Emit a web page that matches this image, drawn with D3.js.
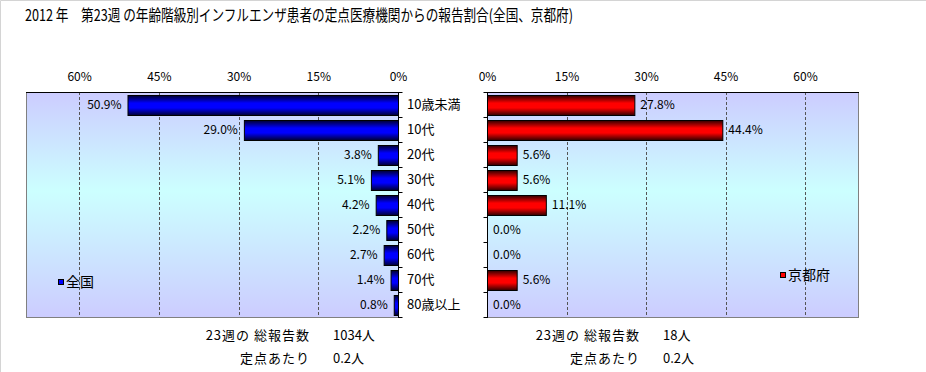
<!DOCTYPE html>
<html>
<head>
<meta charset="utf-8">
<script src="https://cdn.jsdelivr.net/npm/d3@7"></script>
<style>
body { margin: 0; background: #fff; }
text { font-family: "Noto Sans CJK JP", "Noto Sans", sans-serif; fill: #000; }
</style>
</head>
<body>
<svg id="chart" width="926" height="372"></svg>
<script>

// values (percent)
var categories = ["10歳未満", "10代", "20代", "30代", "40代", "50代", "60代", "70代", "80歳以上"];
var zenkoku = [50.9, 29.0, 3.8, 5.1, 4.2, 2.2, 2.7, 1.4, 0.8];
var kyoto = [27.8, 44.4, 5.6, 5.6, 11.1, 0.0, 0.0, 5.6, 0.0];
var tickValues = [0, 15, 30, 45, 60];
var legendNames = ["全国", "京都府"];
var footerLabels = ["23週の 総報告数", "定点あたり"];
var zenkokuFooter = ["1034人", "0.2人"];
var kyotoFooter = ["18人", "0.2人"];
var title = "2012 年　第23週 の年齢階級別インフルエンザ患者の定点医療機関からの報告割合(全国、京都府)";

var width = 926, height = 372;
var plotTop = 92, plotBottom = 317;

var svg = d3.select("#chart");

// outer frame (top + left only)
svg.append("line").attr("x1", 0.5).attr("y1", 0.5).attr("x2", width).attr("y2", 0.5).attr("stroke", "#d4d4d4");
svg.append("line").attr("x1", 0.5).attr("y1", 0.5).attr("x2", 0.5).attr("y2", height).attr("stroke", "#d4d4d4");

svg.append("text")
    .attr("x", 25).attr("y", 21)
    .attr("font-size", 16)
    .attr("textLength", 548).attr("lengthAdjust", "spacingAndGlyphs")
    .text(title);

var defs = svg.append("defs");

var bg = defs.append("linearGradient").attr("id", "bg")
    .attr("x1", 0).attr("y1", 0).attr("x2", 0).attr("y2", 1);
bg.append("stop").attr("offset", "0%").attr("stop-color", "#ccccff");
bg.append("stop").attr("offset", "44%").attr("stop-color", "#ccffff");
bg.append("stop").attr("offset", "100%").attr("stop-color", "#ccccff");

var barGrad = function(id, dark, bright) {
    var g = defs.append("linearGradient").attr("id", id)
        .attr("x1", 0).attr("y1", 0).attr("x2", 0).attr("y2", 1);
    g.append("stop").attr("offset", "0%").attr("stop-color", dark);
    g.append("stop").attr("offset", "38%").attr("stop-color", bright);
    g.append("stop").attr("offset", "62%").attr("stop-color", bright);
    g.append("stop").attr("offset", "100%").attr("stop-color", dark);
};
barGrad("blueBar", "#000030", "#0000ff");
barGrad("redBar", "#300000", "#ff0000");

var y = d3.scaleBand().domain(categories).range([plotTop, plotBottom])
    .paddingInner(0.22).paddingOuter(0.11);
var yIdx = d3.scaleLinear().domain([0, categories.length]).range([plotTop, plotBottom]);

var xL = d3.scaleLinear().domain([0, 70]).range([398, 26]);
var xR = d3.scaleLinear().domain([0, 70]).range([487, 858]);

var panel = function(x, data, grad, side, legendPos, legendName, legendColor, footer) {
    var x0 = x(0), x1 = x(70);
    var left = Math.min(x0, x1), right = Math.max(x0, x1);
    var g = svg.append("g");

    g.append("rect")
        .attr("x", left + 0.5).attr("y", plotTop + 0.5)
        .attr("width", right - left).attr("height", plotBottom - plotTop)
        .attr("fill", "url(#bg)")
        .attr("stroke", "#808080");

    // dashed gridlines
    g.selectAll(".grid")
        .data(tickValues.filter(function(d) { return d > 0; }))
        .enter().append("line")
        .attr("x1", function(d) { return Math.round(x(d)) + 0.5; })
        .attr("x2", function(d) { return Math.round(x(d)) + 0.5; })
        .attr("y1", plotTop).attr("y2", plotBottom)
        .attr("stroke", "#555")
        .attr("stroke-dasharray", "3,2");

    g.append("line")
        .attr("x1", left).attr("x2", right + 1)
        .attr("y1", plotTop + 0.5).attr("y2", plotTop + 0.5)
        .attr("stroke", "#000");

    // value axis on top
    var axis = d3.axisTop(x).tickValues(tickValues).tickSize(0).tickPadding(11)
        .tickFormat(function(d) { return d + "%"; });
    var ax = g.append("g").attr("transform", "translate(0," + plotTop + ")").call(axis);
    ax.select(".domain").remove();
    ax.selectAll("text").attr("font-size", 12).attr("fill", "#000")
        .style("font-family", "\"Noto Sans CJK JP\", sans-serif");

    // category axis at zero
    var cat = (side === "left" ? d3.axisRight(yIdx) : d3.axisLeft(yIdx))
        .tickValues(d3.range(categories.length + 1)).tickSize(4).tickFormat("");
    var cx = g.append("g").attr("transform", "translate(" + (Math.round(x0) + 0.5) + ",0)").call(cat);
    cx.select(".domain").attr("stroke", "#000").attr("d", "M0," + plotTop + "V" + (plotBottom + 1));
    cx.selectAll("line").attr("stroke", "#000");

    g.selectAll(".bar")
        .data(data)
        .enter().append("rect")
        .attr("x", function(d) { return Math.min(x(0), x(d)) + 0.5; })
        .attr("y", function(d, i) { return Math.round(y(categories[i])) + 0.5; })
        .attr("width", function(d) { return Math.abs(x(d) - x(0)); })
        .attr("height", Math.round(y.bandwidth()))
        .attr("fill", "url(#" + grad + ")")
        .attr("stroke", function(d) { return d > 0 ? "#000" : "none"; });

    g.selectAll(".val")
        .data(data)
        .enter().append("text")
        .attr("x", function(d) { return side === "left" ? x(d) - 6 : x(d) + 6; })
        .attr("y", function(d, i) { return y(categories[i]) + y.bandwidth() / 2; })
        .attr("dy", "0.35em")
        .attr("font-size", 12)
        .attr("text-anchor", side === "left" ? "end" : "start")
        .text(function(d) { return d.toFixed(1) + "%"; });

    // legend
    g.append("rect")
        .attr("x", legendPos[0] + 0.5).attr("y", legendPos[1] - 2.5)
        .attr("width", 5).attr("height", 5)
        .attr("fill", legendColor).attr("stroke", "#000");
    g.append("text")
        .attr("x", legendPos[0] + 8).attr("y", legendPos[1])
        .attr("dy", "0.35em").attr("font-size", 14)
        .text(legendName);

    // footer
    var fx = side === "left" ? 310 : 640;
    footerLabels.forEach(function(lab, i) {
        g.append("text").attr("x", fx).attr("y", 335 + i * 23).attr("dy", "0.35em")
            .attr("font-size", 13).attr("letter-spacing", 1)
            .attr("text-anchor", "end").text(lab);
        g.append("text").attr("x", fx + 23).attr("y", 335 + i * 23).attr("dy", "0.35em")
            .attr("font-size", 13).text(footer[i]);
    });
};

panel(xL, zenkoku, "blueBar", "left", [58, 282], legendNames[0], "#0000ff", zenkokuFooter);
panel(xR, kyoto, "redBar", "right", [780, 275], legendNames[1], "#ff0000", kyotoFooter);

// category labels between the two panels
svg.selectAll(".cat")
    .data(categories)
    .enter().append("text")
    .attr("x", 407)
    .attr("y", function(d) { return y(d) + y.bandwidth() / 2; })
    .attr("dy", "0.35em")
    .attr("font-size", 13)
    .text(function(d) { return d; });

</script>
</body>
</html>
